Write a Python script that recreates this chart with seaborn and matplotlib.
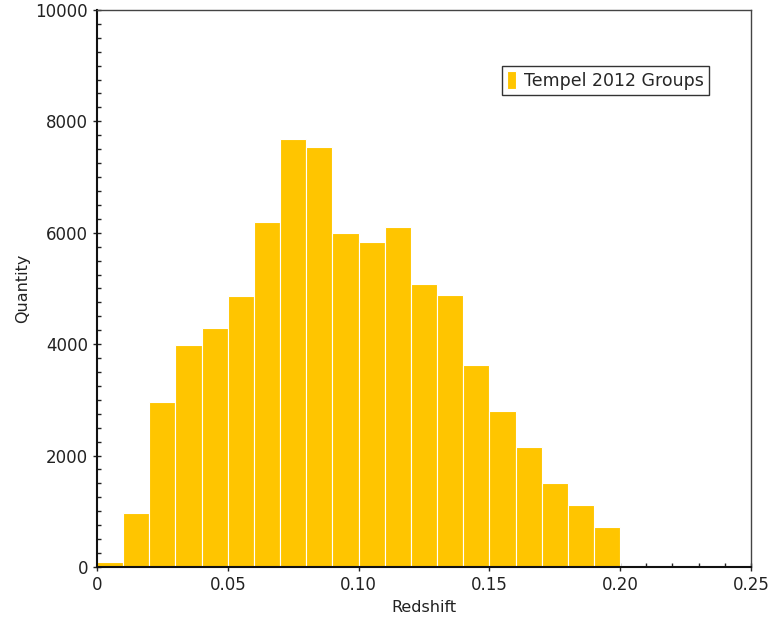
import numpy as np
import pandas as pd
import seaborn as sns
import matplotlib
matplotlib.use("Agg")
import matplotlib.pyplot as plt
from matplotlib.ticker import MultipleLocator, FixedLocator

# histogram counts, bins of 0.01 in redshift
bin_edges = [0.00, 0.01, 0.02, 0.03, 0.04, 0.05, 0.06, 0.07, 0.08, 0.09, 0.10,
             0.11, 0.12, 0.13, 0.14, 0.15, 0.16, 0.17, 0.18, 0.19, 0.20]
counts = [90, 970, 2960, 3990, 4290, 4870, 6190, 7680, 7540, 6000,
          5830, 6100, 5080, 4880, 3630, 2800, 2150, 1510, 1110, 720]
x_ticks = [0, 0.05, 0.10, 0.15, 0.20, 0.25]
x_tick_labels = ["0", "0.05", "0.10", "0.15", "0.20", "0.25"]

sns.set_style("white")
plt.rcParams["font.family"] = ["DejaVu Sans"]

df = pd.DataFrame({
    "Redshift": [(a + b) / 2 for a, b in zip(bin_edges[:-1], bin_edges[1:])],
    "Quantity": counts,
})

fig = plt.figure(figsize=(7.71, 6.21), dpi=100)
ax = fig.add_axes([0.1258, 0.087, 0.8482, 0.897])

sns.histplot(data=df, x="Redshift", weights="Quantity", bins=bin_edges,
             color="#FFC500", alpha=1, edgecolor="white", linewidth=0.8,
             label="Tempel 2012 Groups", ax=ax)

ax.set_xlim(0, 0.25)
ax.set_ylim(0, 10000)
ax.xaxis.set_major_locator(FixedLocator(x_ticks))
ax.set_xticklabels(x_tick_labels)
ax.xaxis.set_minor_locator(MultipleLocator(0.01))
ax.yaxis.set_major_locator(MultipleLocator(2000))
ax.yaxis.set_minor_locator(MultipleLocator(250))
ax.tick_params(which="major", direction="inout", length=6, width=1,
               labelsize=12, colors="#222222", left=True, bottom=True)
ax.tick_params(which="minor", direction="in", length=3, width=1,
               color="#222222", left=True, bottom=True)
for s in ax.spines.values():
    s.set_color("#444444")
    s.set_linewidth(1)
ax.spines["left"].set_color("#111111")
ax.spines["bottom"].set_color("#111111")
ax.spines["left"].set_linewidth(1.5)
ax.spines["bottom"].set_linewidth(1.5)

ax.set_xlabel("Redshift", fontsize=11.5, color="#222222", labelpad=4)
ax.set_ylabel("Quantity", fontsize=11.5, color="#222222", labelpad=4)

leg = ax.legend(loc="upper left", bbox_to_anchor=(0.619, 0.9), fontsize=12.5,
                frameon=True, fancybox=False, framealpha=1, borderpad=0.3,
                handlelength=0.5, handleheight=1.2, handletextpad=0.5,
                borderaxespad=0)
leg.get_frame().set_edgecolor("#333333")
leg.get_frame().set_linewidth(1)

fig.savefig("out.png", dpi=100)
